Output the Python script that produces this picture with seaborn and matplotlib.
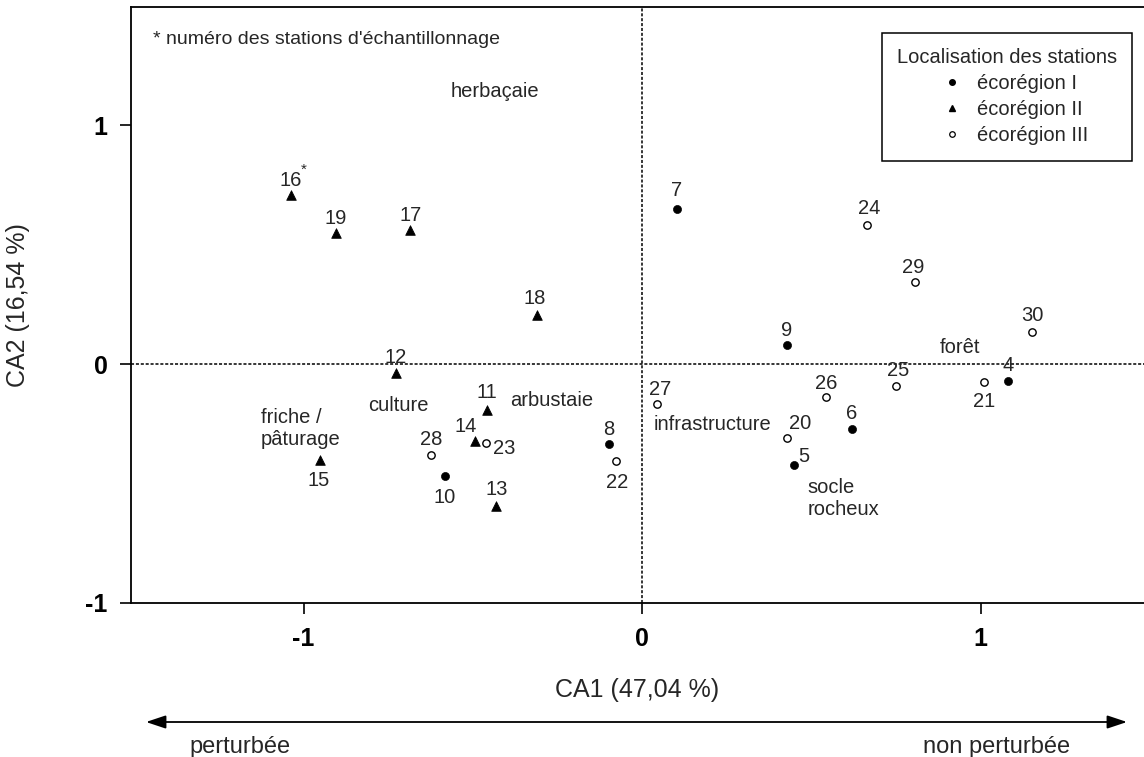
import pandas as pd
import matplotlib.pyplot as plt
import seaborn as sns
from matplotlib.lines import Line2D
from matplotlib.legend_handler import HandlerLine2D
from matplotlib.patches import FancyArrowPatch

# Station scores on the two first axes of the CA
station = [16, 19, 17, 18, 12, 11, 14, 15, 13,
           7, 9, 8, 10, 6, 5, 4,
           24, 29, 30, 25, 21, 26, 20, 27, 22, 23, 28]
ecoregion = ['II'] * 9 + ['I'] * 7 + ['III'] * 11
ca1 = [-1.037, -0.904, -0.685, -0.310, -0.727, -0.458, -0.493, -0.951, -0.431,
       0.103, 0.428, -0.097, -0.582, 0.620, 0.449, 1.081,
       0.665, 0.807, 1.152, 0.750, 1.010, 0.544, 0.428, 0.044, -0.077, -0.461, -0.623]
ca2 = [0.707, 0.548, 0.561, 0.205, -0.038, -0.192, -0.322, -0.402, -0.594,
       0.649, 0.079, -0.335, -0.469, -0.273, -0.423, -0.071,
       0.582, 0.343, 0.136, -0.092, -0.075, -0.140, -0.310, -0.167, -0.406, -0.331, -0.381]

# habitat labels (text, ca1, ca2)
habitat_text = ['herbaçaie', 'culture', 'friche /\npâturage', 'arbustaie',
                'infrastructure', 'socle\nrocheux', 'forêt']
habitat_ca1 = [-0.434, -0.721, -1.126, -0.266, 0.207, 0.490, 0.939]
habitat_ca2 = [1.142, -0.172, -0.268, -0.151, -0.255, -0.561, 0.071]

tick_values = [-1, 0, 1]
tick_labels = ['-1', '0', '1']

# label offsets in pixels (dx, dy) for each station number
offsets = {16: (0, 15), 19: (0, 15), 17: (0, 14), 18: (-2, 17), 12: (0, 16),
           11: (0, 17), 14: (-10, 14), 15: (-2, -20), 13: (0, 16), 7: (0, 18),
           9: (0, 15), 8: (0, 15), 10: (0, -21), 6: (0, 16), 5: (10, 9),
           4: (0, 15), 24: (2, 16), 29: (-2, 15), 30: (0, 16), 25: (2, 16),
           21: (0, -20), 26: (0, 14), 20: (13, 15), 27: (3, 14), 22: (1, -21),
           23: (18, -5), 28: (0, 16)}

df = pd.DataFrame({'station': station, 'ca1': ca1, 'ca2': ca2, 'eco': ecoregion})

sns.set_style('ticks')
plt.rcParams['font.family'] = ['Liberation Sans', 'DejaVu Sans']

fig = plt.figure(figsize=(11.44, 7.57), dpi=100)
ax = fig.add_axes([131 / 1144, 154 / 757, 1013 / 1144, 596 / 757])

# dotted axes through the origin
ax.axhline(0, color='black', lw=1.1, ls=(0, (2, 1.2)), zorder=1)
ax.axvline(0, color='black', lw=1.1, ls=(0, (2, 1.2)), zorder=1)

sns.scatterplot(data=df[df.eco == 'I'], x='ca1', y='ca2', marker='o', s=34,
                color='black', edgecolor='black', ax=ax, zorder=3)
sns.scatterplot(data=df[df.eco == 'II'], x='ca1', y='ca2', marker='^', s=48,
                color='black', edgecolor='black', ax=ax, zorder=3)
sns.scatterplot(data=df[df.eco == 'III'], x='ca1', y='ca2', marker='o', s=28,
                color='white', edgecolor='black', linewidth=1, ax=ax, zorder=3)

for _, r in df.iterrows():
    dx, dy = offsets[r['station']]
    ax.annotate(str(r['station']), (r['ca1'], r['ca2']), xytext=(dx, dy),
                textcoords='offset pixels', ha='center', va='center', fontsize=14.5)
# asterisk on station 16
r16 = df[df.station == 16].iloc[0]
ax.annotate('*', (r16['ca1'], r16['ca2']), xytext=(13, 25),
            textcoords='offset pixels', ha='center', va='center', fontsize=11)

for t, x, y in zip(habitat_text, habitat_ca1, habitat_ca2):
    ha = 'left' if '\n' in t else 'center'
    ax.text(x, y, t, ha=ha, va='center', fontsize=14.5, linespacing=1.2)

ax.text(0.022, 0.945, '* numéro des stations d\'échantillonnage',
        transform=ax.transAxes, ha='left', va='center', fontsize=14)

ax.set_xlim(-1.51, 1.483)
ax.set_ylim(-1.0, 1.494)
ax.set_xticks(tick_values)
ax.set_xticklabels(tick_labels, fontweight='bold')
ax.set_yticks(tick_values)
ax.set_yticklabels(tick_labels, fontweight='bold')
ax.tick_params(length=8, width=1.2, pad=9, labelsize=18, colors='black')
ax.spines['right'].set_visible(False)
for s in ['left', 'bottom', 'top']:
    ax.spines[s].set_linewidth(1.3)
    ax.spines[s].set_color('black')

ax.set_xlabel('CA1 (47,04 %)', fontsize=18)
ax.set_ylabel('CA2 (16,54 %)', fontsize=18)
ax.xaxis.set_label_coords(0.5, -0.125)
ax.yaxis.set_label_coords(-0.1, 0.5)

handles = [Line2D([], [], marker='o', color='black', ls='', markersize=4),
           Line2D([], [], marker='^', color='black', ls='', markersize=5),
           Line2D([], [], marker='o', color='black', markerfacecolor='white',
                  ls='', markersize=4, markeredgewidth=0.9)]
leg = ax.legend(handles, ['écorégion I', 'écorégion II', 'écorégion III'],
                title='Localisation des stations', title_fontsize=14.5, fontsize=14.5,
                loc='upper right', bbox_to_anchor=(0.988, 0.956), borderaxespad=0,
                frameon=True, fancybox=False, edgecolor='black', framealpha=1,
                handlelength=3.5, handletextpad=0.5, labelspacing=0.35,
                borderpad=0.75, alignment='left',
                handler_map={Line2D: HandlerLine2D(xpad=2.0)})
leg.get_frame().set_linewidth(1.1)

# disturbance gradient arrow
fig.add_artist(FancyArrowPatch((146 / 1144, 35 / 757), (1127 / 1144, 35 / 757),
                               transform=fig.transFigure, color='black', lw=1.3,
                               arrowstyle='<|-|>,head_length=0.6,head_width=0.2',
                               mutation_scale=20, shrinkA=0, shrinkB=0))
fig.text(240 / 1144, 10 / 757, 'perturbée', ha='center', va='center', fontsize=17)
fig.text(997 / 1144, 10 / 757, 'non perturbée', ha='center', va='center', fontsize=17)

fig.savefig('out.png', dpi=100)
